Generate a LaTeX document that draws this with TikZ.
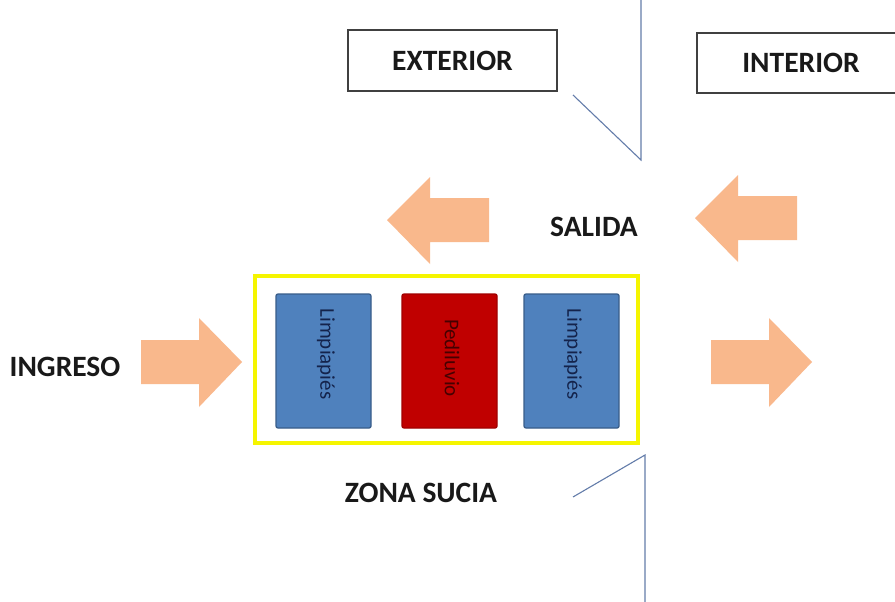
\documentclass[tikz,border=0pt]{standalone}
\usepackage{fontspec}
\setmainfont{Carlito}
\begin{document}
\begin{tikzpicture}[x=1pt,y=-1pt,
  lbl/.style={font=\fontsize{29.5}{31}\selectfont\bfseries, text=black!90},
  framebox/.style={draw=black!75, line width=2pt, fill=white},
  wallline/.style={line width=1.1pt, color={rgb,255:red,100;green,125;blue,170}},
  bigarrow/.style={fill={rgb,255:red,249;green,184;blue,140}, draw=none},
  bluebox/.style={fill={rgb,255:red,79;green,129;blue,189}, draw={rgb,255:red,56;green,93;blue,138}, line width=1.3pt, rounded corners=2pt},
  redbox/.style={fill={rgb,255:red,192;green,0;blue,0}, draw={rgb,255:red,160;green,0;blue,0}, line width=1.3pt, rounded corners=2pt},
  boxtxt/.style={font=\fontsize{21}{22}\selectfont, rotate=-90}
]
\useasboundingbox (0,0) rectangle (895,602);
\fill[white] (0,0) rectangle (895,602);

% label boxes
\node[framebox, minimum width=209pt, minimum height=61pt, inner sep=0pt] (ext) at (452.5,60.5) {};
\node[lbl] (extt) at (ext.center) {EXTERIOR};
\begin{scope}
\clip (0,0) rectangle (895,602);
\node[framebox, minimum width=210pt, minimum height=60pt, inner sep=0pt] (int) at (802,63) {};
\end{scope}
\node[lbl] (intt) at (801,63) {INTERIOR};

% walls
\coordinate (wt0) at (641,0);
\coordinate (wt1) at (641,160);
\coordinate (wt2) at (573,95);
\draw[wallline] (wt0) -- (wt1) -- (wt2);
\coordinate (wb0) at (645,602);
\coordinate (wb1) at (645,455);
\coordinate (wb2) at (573,497);
\draw[wallline] (wb0) -- (wb1) -- (wb2);

% arrows
\fill[bigarrow] (387,220) -- (430,177) -- (430,198) -- (489,198) -- (489,242) -- (430,242) -- (430,264) -- cycle;
\fill[bigarrow] (695,218) -- (738,175) -- (738,196) -- (797,196) -- (797,240) -- (738,240) -- (738,262) -- cycle;
\fill[bigarrow] (242,362) -- (199,318) -- (199,340) -- (141,340) -- (141,384) -- (199,384) -- (199,407) -- cycle;
\fill[bigarrow] (812,362) -- (769,318) -- (769,340) -- (711,340) -- (711,384) -- (769,384) -- (769,407) -- cycle;

% text labels
\node[lbl] (salida) at (594,227) {SALIDA};
\node[lbl] (ingreso) at (65,367) {INGRESO};
\node[lbl] (zona) at (421,493) {ZONA SUCIA};

% yellow zone
\draw[draw={rgb,255:red,245;green,245;blue,0}, line width=3.5pt] (255,276) rectangle (638,443);

% boxes
\draw[bluebox] (276,294) rectangle (371,428);
\node[boxtxt, text={rgb,255:red,20;green,35;blue,75}] (b1) at (326,354) {Limpiapiés};
\draw[redbox] (402,294) rectangle (497,428);
\node[boxtxt, text={rgb,255:red,70;green,0;blue,0}] (b2) at (452,358) {Pediluvio};
\draw[bluebox] (524,294) rectangle (619,428);
\node[boxtxt, text={rgb,255:red,20;green,35;blue,75}] (b3) at (573,354) {Limpiapiés};
\end{tikzpicture}
\end{document}
